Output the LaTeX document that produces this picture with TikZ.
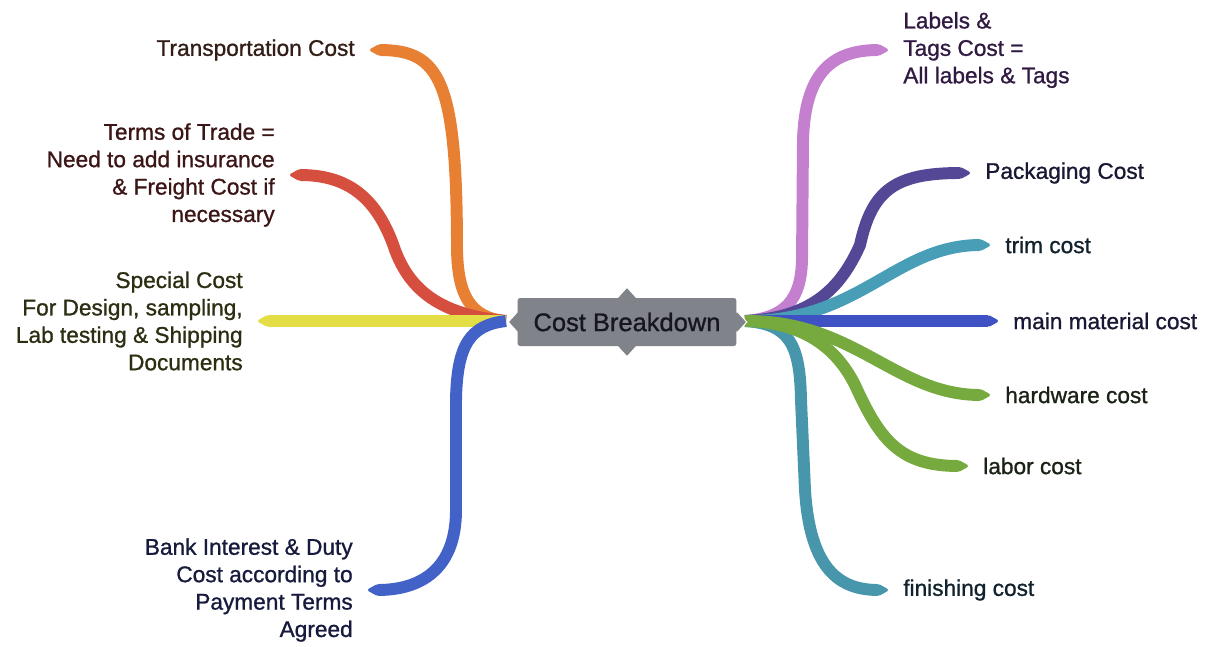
\documentclass[tikz,border=0pt]{standalone}
\usepackage{fontspec}
\setmainfont[FakeBold=1]{Liberation Sans}
\usetikzlibrary{arrows.meta,shapes.geometric}

\definecolor{nodegray}{RGB}{128,131,138}
\definecolor{hubtext}{RGB}{22,22,30}
\definecolor{orangebranch}{RGB}{232,128,52}
\definecolor{redbranch}{RGB}{214,78,62}
\definecolor{yellowbranch}{RGB}{228,222,70}
\definecolor{bankbranch}{RGB}{66,98,200}
\definecolor{pinkbranch}{RGB}{196,128,206}
\definecolor{purplebranch}{RGB}{84,72,150}
\definecolor{trimbranch}{RGB}{72,158,182}
\definecolor{materialbranch}{RGB}{62,82,196}
\definecolor{greenbranch}{RGB}{118,170,62}
\definecolor{finishbranch}{RGB}{72,150,172}
\definecolor{transtext}{RGB}{50,30,22}
\definecolor{termstext}{RGB}{60,22,22}
\definecolor{specialtext}{RGB}{45,45,18}
\definecolor{banktext}{RGB}{22,26,60}
\definecolor{labelstext}{RGB}{48,26,66}
\definecolor{bluetext}{RGB}{24,24,52}
\definecolor{tealtext}{RGB}{18,34,44}
\definecolor{greentext}{RGB}{26,34,22}

\begin{document}
\begin{tikzpicture}[ x=0.02cm, y=-0.02cm,
	leaf/.style={ inner xsep=8.5pt, inner ysep=2pt, font=\fontsize{12.9}{15.6}\selectfont },
	branch/.style={ line width=6.8pt, -{Triangle[length=7pt, width=7pt, round]} },
	notch/.style={ diamond, fill=nodegray, draw=white, line width=0.6pt, inner sep=0pt, minimum width=0.4cm, minimum height=0.44cm },
	hub/.style={ fill=nodegray, rounded corners=1.5pt, minimum width=4.38cm, minimum height=0.96cm, font=\fontsize{14.5}{17}\selectfont, text=hubtext } ]

	  \useasboundingbox (0,0) rectangle (1207,646);

	  \coordinate (lefthub) at (506,321);
	  \coordinate (righthub) at (745,321);

	  \node [ leaf, anchor=east, text=transtext ] (transport) at (370,50) {Transportation Cost};
	  \node [ leaf, anchor=east, align=right, text=termstext ] (terms) at (290,175) {Terms of Trade =\\Need to add insurance\\\& Freight Cost if\\necessary};
	  \node [ leaf, anchor=east, align=right, text=specialtext ] (special) at (258,321) {Special Cost\\For Design, sampling,\\Lab testing \& Shipping\\Documents};
	  \node [ leaf, anchor=east, align=right, text=banktext ] (bank) at (368,590) {Bank Interest \& Duty\\Cost according to\\Payment Terms\\Agreed};

	  \node [ leaf, anchor=west, align=left, text=labelstext ] (labels) at (888,50) {Labels \&\\Tags Cost =\\All labels \& Tags};
	  \node [ leaf, anchor=west, text=bluetext ] (packaging) at (970,173) {Packaging Cost};
	  \node [ leaf, anchor=west, text=tealtext ] (trim) at (990,245) {trim cost};
	  \node [ leaf, anchor=west, text=bluetext ] (material) at (998,321) {main material cost};
	  \node [ leaf, anchor=west, text=greentext ] (hardware) at (990,395) {hardware cost};
	  \node [ leaf, anchor=west, text=greentext ] (labor) at (968,466) {labor cost};
	  \node [ leaf, anchor=west, text=tealtext ] (finishing) at (888,590) {finishing cost};

	  \draw [ branch, orangebranch ] (lefthub) .. controls (470,318) and (458,295) .. (457,250) .. controls (457,80) and (440,50) .. (transport.east);
	  \draw [ branch, redbranch ] (lefthub) .. controls (440,315) and (410,290) .. (395,250) .. controls (375,190) and (340,175) .. (terms.east);
	  \draw [ branch, yellowbranch ] (lefthub) -- (special.east);
	  \draw [ branch, bankbranch ] (lefthub) .. controls (470,325) and (457,345) .. (456,400) -- (456,510) .. controls (456,570) and (420,590) .. (bank.east);

	  \draw [ branch, pinkbranch ] (righthub) .. controls (785,318) and (801,300) .. (802,260) -- (803,140) .. controls (805,75) and (830,50) .. (labels.west);
	  \draw [ branch, purplebranch ] (righthub) .. controls (810,318) and (840,290) .. (860,245) .. controls (872,190) and (895,173) .. (packaging.west);
	  \draw [ branch, trimbranch ] (righthub) .. controls (860,322) and (895,245) .. (trim.west);
	  \draw [ branch, finishbranch ] (righthub) .. controls (790,324) and (800,345) .. (801,400) -- (805,490) .. controls (810,570) and (840,590) .. (finishing.west);
	  \draw [ branch, materialbranch ] (righthub) -- (material.west);
	  \draw [ branch, greenbranch ] (righthub) .. controls (855,320) and (895,395) .. (hardware.west);
	  \draw [ branch, greenbranch ] (righthub) .. controls (800,322) and (835,345) .. (855,385) .. controls (880,440) and (900,466) .. (labor.west);

	  \node [ notch ] (notchtop) at (627,298) {};
	  \node [ notch ] (notchbottom) at (627,346) {};
	  \node [ notch ] (notchleft) at (518,322) {};
	  \node [ notch ] (notchright) at (737,322) {};
	  \node [ hub ] (breakdown) at (627,322) {Cost Breakdown};
	\end{tikzpicture}
\end{document}
